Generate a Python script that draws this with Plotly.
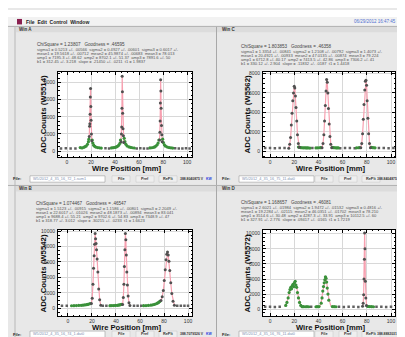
import plotly.graph_objects as go

W, H = 405, 337

# ---------------- data ----------------
# Win A (W5514)
a_scan_x = [-5, -1, 3, 7, 32, 35, 58, 61, 64, 67, 90, 93, 96, 99, 102]
a_scan_y = [320, 330, 310, 320, 330, 310, 320, 330, 310, 320, 330, 310, 320, 330, 310]
a_bg_x = [11, 12.5, 14, 15, 16, 17, 17.8, 18.2, 21, 21.5, 22.2, 23, 24, 25.5, 27, 28.5,
          37, 38.5, 40, 41, 42, 43, 44, 44.5, 47.6, 48.2, 49, 50, 51.5, 53, 54.5, 56,
          69, 70.5, 72, 73, 74, 75, 75.8, 76.4, 79.6, 80.2, 81, 82, 83.5, 85, 86.5, 88]
a_bg_y = [420, 380, 450, 520, 600, 800, 1100, 1400, 1300, 950, 700, 560, 480, 420, 390, 360,
          380, 410, 440, 500, 560, 700, 900, 1300, 1500, 1100, 800, 600, 500, 440, 400, 370,
          380, 400, 450, 500, 600, 750, 950, 1300, 1400, 1000, 750, 580, 480, 420, 390, 360]
a_pk_x = [18.5, 18.8, 19.0, 19.2, 19.4, 19.6, 19.8, 20.0, 20.3, 20.6,
          45.0, 45.3, 45.5, 45.7, 45.9, 46.1, 46.3, 46.6, 46.9, 47.2,
          77.0, 77.3, 77.5, 77.7, 77.9, 78.1, 78.3, 78.6, 78.9, 79.2]
a_pk_y = [1700, 2900, 3200, 4300, 6300, 7300, 5200, 3600, 2000, 1200,
          1100, 2000, 2800, 5000, 8700, 6900, 4400, 2600, 1800, 1000,
          1300, 2200, 3500, 5600, 8300, 7000, 5000, 3000, 1900, 1100]

# Win C (W5562)
c_scan_x = [-4, 0, 4, 8, 12, 35, 58, 62, 66, 70, 90, 94, 98, 102]
c_scan_y = [320, 330, 310, 320, 330, 320, 310, 330, 320, 310, 320, 330, 310, 320]
c_bg_x = [23.5, 24.5, 25.5, 26.5, 27.5, 28.5, 29.5, 30.5, 31.5, 33,
          38, 39.5, 41, 42, 51.5, 52.5, 53.5, 54.5, 55.5, 56.5,
          71.5, 73, 74, 83.8, 84.8, 85.8, 86.8]
c_bg_y = [420, 380, 360, 350, 340, 350, 330, 340, 330, 320,
          330, 340, 350, 360, 380, 360, 350, 340, 330, 340,
          340, 350, 360, 380, 360, 350, 340]
c_pk_x = [15.5, 16.3, 17.0, 17.6, 18.2, 18.8, 19.4, 20.0, 20.5, 21.0, 21.5, 22.1, 22.7, 23.4, 24.2,
          43.0, 43.8, 44.5, 45.1, 45.7, 46.3, 46.8, 47.3, 47.8, 48.3, 48.9, 49.5, 50.2, 51.0,
          75.0, 75.8, 76.5, 77.1, 77.7, 78.3, 78.8, 79.3, 79.8, 80.3, 80.9, 81.5, 82.2, 83.0]
c_pk_y = [300, 700, 1400, 2700, 3900, 5200, 6000, 6700, 6500, 5700, 4500, 3100, 1700, 800, 400,
          350, 800, 1700, 3100, 4700, 6200, 7400, 7100, 6000, 4400, 2800, 1500, 700, 350,
          350, 800, 1800, 3300, 4800, 6300, 7200, 7300, 6800, 5200, 3400, 1800, 800, 350]

# Win B (W5542)
b_scan_x = [-5, -1, 29, 32, 55, 58, 61, 91, 94, 97, 100]
b_scan_y = [320, 330, 310, 320, 330, 310, 320, 330, 310, 320, 330]
b_bg_x = [3, 5, 7, 9, 11, 12.5, 14, 15.5, 16.5, 17.5, 18.5,
          35, 36.5, 38, 39.5, 41, 42, 43, 44, 44.8,
          63, 65, 67, 69, 70.5, 72, 73.5, 74.5, 75.5, 76.5]
b_bg_y = [320, 330, 340, 360, 380, 400, 430, 460, 500, 550, 600,
          330, 340, 350, 360, 380, 400, 430, 470, 520,
          330, 350, 370, 400, 440, 500, 580, 660, 760, 880]
b_pk_x = [19.5, 20.2, 20.8, 21.3, 21.8, 22.2, 22.6, 23.0, 23.4, 23.8, 24.3, 24.9, 25.6, 26.4, 27.3,
          45.5, 46.1, 46.6, 47.0, 47.4, 47.8, 48.2, 48.6, 49.0, 49.5, 50.1, 50.8, 51.6,
          77.5, 78.5, 79.4, 80.2, 81.0, 81.7, 82.3, 82.9, 83.5, 84.1, 84.8, 85.6, 86.5, 87.5, 88.6]
b_pk_y = [600, 1300, 3100, 5200, 6800, 8300, 9700, 9000, 8400, 7600, 6400, 4700, 2500, 1100, 400,
          500, 1400, 3100, 5400, 7600, 9700, 8900, 6900, 4700, 3000, 1600, 700, 350,
          1000, 1500, 2300, 3600, 5000, 6300, 7000, 7300, 6900, 6100, 4900, 3300, 1900, 900, 400]

# Win D (W5572)
d_scan_x = [-4, 0, 4, 8, 34, 57, 61, 65, 69, 73, 88, 92, 96, 100]
d_scan_y = [320, 330, 310, 320, 330, 320, 310, 330, 320, 310, 320, 330, 310, 320]
d_bg_x = [13.0, 14.0, 15.0, 15.8, 16.5, 17.2, 17.8, 18.4, 19.0, 19.6, 20.2, 20.8, 21.4, 22.0, 22.7, 23.5, 24.4, 25.4, 26.5,
          27.5, 29, 30.5, 32, 38, 39, 40.5,
          42.3, 43.0, 43.6, 44.2, 44.8, 45.3, 45.8, 46.3, 46.8, 47.3, 47.9, 48.6,
          51.5, 53, 54.5, 80.5, 81.5, 82.5, 84, 85.5]
d_bg_y = [500, 900, 1500, 2200, 2600, 2900, 2700, 3100, 3300, 3000, 3500, 3700, 3200, 2900, 2200, 1500, 900, 500, 330,
          340, 330, 340, 330, 330, 340, 350,
          800, 1500, 2400, 3000, 3500, 3900, 4300, 4100, 3600, 2800, 2000, 1200,
          350, 340, 330, 380, 360, 350, 340, 330]
d_pk_x = [76.5, 77.0, 77.4, 77.7, 78.0, 78.2, 78.5, 78.8, 79.2, 79.7]
d_pk_y = [400, 800, 1900, 4000, 6600, 10100, 8000, 3700, 1500, 500]
d_fit_x = [12, 13.0, 15.0, 17.2, 19.0, 20.8, 22.0, 23.5, 25.4, 27,
           41, 42.3, 43.6, 44.8, 45.8, 46.3, 47.3, 48.6, 50.3,
           76.5, 77.0, 77.4, 77.7, 78.0, 78.2, 78.5, 78.8, 79.2, 79.7]
d_fit_y = [350, 500, 1500, 2800, 3300, 3500, 3000, 1600, 600, 350,
           350, 900, 2300, 3400, 4100, 4200, 3200, 1400, 400,
           400, 800, 1900, 4000, 6600, 10100, 8000, 3700, 1500, 500]

x_ticks = [0, 20, 40, 60, 80, 100]
y_ticks_top = [0, 2000, 4000, 6000, 8000]
y_ticks_bottom = [0, 2000, 4000, 6000, 8000, 10000]
y_titles = ["ADC Counts (W5514)", "ADC Counts (W5562)", "ADC Counts (W5542)", "ADC Counts (W5572)"]
win_names = ["Win A", "Win C", "Win B", "Win D"]
chi_lines = ["ChiSquare = 1.23807   Goodness = .46595",
             "ChiSquare = 1.803853   Goodness = .46358",
             "ChiSquare = 1.074467   Goodness = .46547",
             "ChiSquare = 1.168657   Goodness = .46081"]
param_lines = [
    ["sigma1 = 0.5213 +/- .00566  sigma2 = 0.4927 +/- .00601  sigma3 = 0.6017 +/-",
     "mean1 = 19.5618 +/- .00712  mean2 = 45.9874 +/- .00683  mean3 = 78.013",
     "amp1 = 7195.3 +/- 48.62  amp2 = 8702.1 +/- 51.37  amp3 = 7891.6 +/- 50",
     "b1 = 312.45 +/- 3.218  slope = .21450 +/- .0211  t1 = 1.9837"],
    ["sigma1 = 1.3354 +/- .00841  sigma2 = 1.2108 +/- .00792  sigma3 = 1.4073 +/-",
     "mean1 = 20.4921 +/- .00933  mean2 = 47.0135 +/- .00874  mean3 = 79.224",
     "amp1 = 6712.8 +/- 40.17  amp2 = 7413.5 +/- 42.86  amp3 = 7306.2 +/- 41",
     "b1 = 330.12 +/- 2.904  slope = .11832 +/- .0187  t1 = 1.4418"],
    ["sigma1 = 1.5123 +/- .00915  sigma2 = 1.1586 +/- .00801  sigma3 = 2.2049 +/-",
     "mean1 = 22.6017 +/- .01026  mean2 = 48.1873 +/- .00894  mean3 = 83.041",
     "amp1 = 9688.4 +/- 55.21  amp2 = 9702.6 +/- 54.83  amp3 = 7348.9 +/- 47",
     "b1 = 318.77 +/- 3.012  slope = .30215 +/- .0233  t1 = 1.6623"],
    ["sigma1 = 2.6021 +/- .01984  sigma2 = 1.9472 +/- .01532  sigma3 = 0.4816 +/-",
     "mean1 = 19.2284 +/- .02115  mean2 = 46.0351 +/- .01702  mean3 = 78.210",
     "amp1 = 3514.6 +/- 30.48  amp2 = 4287.3 +/- 33.91  amp3 = 10112.5 +/- 60",
     "b1 = 327.91 +/- 2.776  slope = .09417 +/- .0165  t1 = 1.7219"],
]
file_names = ["W5/2012_4_35_16_72_1.sum1", "W5/2012_4_35_16_75_11.dat0",
              "W5/2012_4_35_16_74_1.dat0", "W5/2012_4_35_16_76_11.dat0"]
volt_texts = ["388.8040875 V", "388.8404875 V", "388.7079526 V", "388.8882031 V"]
blue_texts = ["KW", "K", "KW", "K"]

panels = [
    dict(scan=(a_scan_x, a_scan_y), bg=(a_bg_x, a_bg_y), pk=(a_pk_x, a_pk_y), fit=(a_pk_x, a_pk_y)),
    dict(scan=(c_scan_x, c_scan_y), bg=(c_bg_x, c_bg_y), pk=(c_pk_x, c_pk_y), fit=(c_pk_x, c_pk_y)),
    dict(scan=(b_scan_x, b_scan_y), bg=(b_bg_x, b_bg_y), pk=(b_pk_x, b_pk_y), fit=(b_pk_x, b_pk_y)),
    dict(scan=(d_scan_x, d_scan_y), bg=(d_bg_x, d_bg_y), pk=(d_pk_x, d_pk_y), fit=(d_fit_x, d_fit_y)),
]

# ---------------- layout geometry (pixels) ----------------
def px(x):
    return x / W

def py(y):
    return 1 - y / H

boxes = [(50, 184, 62, 148), (255, 387, 62, 148), (50, 184, 221, 308), (255, 387, 221, 308)]
xranges = [[-7.5, 104], [-5.8, 103.3], [-8.3, 103.3], [-5.8, 103.3]]
yranges = [[-690, 9250], [-615, 8200], [-1030, 10190], [-920, 10530]]
yticks = [y_ticks_top, y_ticks_top, y_ticks_bottom, y_ticks_bottom]

fig = go.Figure()
FONT = "Arial, Liberation Sans, sans-serif"

for i, p in enumerate(panels):
    xa = "x" if i == 0 else f"x{i+1}"
    ya = "y" if i == 0 else f"y{i+1}"
    fx, fy = p["fit"]
    lx, ly = [], []
    for k in range(len(fx)):
        if k > 0 and fx[k] - fx[k - 1] > 5:
            lx.append(None)
            ly.append(None)
        lx.append(fx[k])
        ly.append(fy[k])
    fig.add_trace(go.Scatter(x=lx, y=ly, mode="lines", line=dict(color="#f7a0b0", width=1.2),
                             xaxis=xa, yaxis=ya, hoverinfo="skip", connectgaps=False))
    fig.add_trace(go.Scatter(x=p["scan"][0], y=p["scan"][1], mode="markers",
                             marker=dict(color="#606060", size=2.5, symbol="square"),
                             xaxis=xa, yaxis=ya))
    fig.add_trace(go.Scatter(x=p["bg"][0], y=p["bg"][1], mode="markers",
                             marker=dict(color="#3a913a", size=3.2),
                             xaxis=xa, yaxis=ya))
    fig.add_trace(go.Scatter(x=p["pk"][0], y=p["pk"][1], mode="markers",
                             marker=dict(color="#505050", size=3),
                             xaxis=xa, yaxis=ya))

axis_common = dict(showline=True, linecolor="black", linewidth=1, mirror="ticks",
                   ticks="inside", ticklen=3, tickcolor="black", showgrid=True,
                   gridcolor="#d8d8d8", gridwidth=1, zeroline=False,
                   tickfont=dict(size=5, color="#333333", family=FONT))

layout = dict(width=W, height=H, margin=dict(l=0, r=0, t=0, b=0),
              paper_bgcolor="#e8e8e8", plot_bgcolor="white", showlegend=False)

for i, (l, r, t, b) in enumerate(boxes):
    xk = "xaxis" if i == 0 else f"xaxis{i+1}"
    yk = "yaxis" if i == 0 else f"yaxis{i+1}"
    xa = "x" if i == 0 else f"x{i+1}"
    ya = "y" if i == 0 else f"y{i+1}"
    layout[xk] = dict(axis_common, domain=[px(l), px(r)], range=xranges[i], tickvals=x_ticks,
                      anchor=ya, ticklabelstandoff=0,
                      minor=dict(ticks="inside", ticklen=1.5, tickcolor="black", dtick=5, showgrid=False))
    layout[yk] = dict(axis_common, domain=[py(b), py(t)], range=yranges[i], tickvals=yticks[i],
                      tickformat="d", anchor=xa, ticklabelstandoff=1,
                      minor=dict(ticks="inside", ticklen=1.5, tickcolor="black", dtick=500, showgrid=False))

fig.update_layout(**layout)

shapes = []
ann = []

def text(x, y, s, size=5, color="#222222", bold=False, anchor="left", angle=0, family=FONT):
    if bold:
        s = f"<b>{s}</b>"
    ann.append(dict(x=px(x), y=py(y), xref="paper", yref="paper", text=s, showarrow=False,
                    xanchor=anchor, yanchor="middle", textangle=angle, borderpad=0,
                    font=dict(size=size, color=color, family=family)))

def rect(x0, y0, x1, y1, fill, line="rgba(0,0,0,0)", lw=0.8):
    shapes.append(dict(type="rect", xref="paper", yref="paper", x0=px(x0), x1=px(x1),
                       y0=py(y1), y1=py(y0), fillcolor=fill, line=dict(color=line, width=lw),
                       layer="below"))

def line(x0, y0, x1, y1, color="#a0a0a0", lw=1):
    shapes.append(dict(type="line", xref="paper", yref="paper", x0=px(x0), x1=px(x1),
                       y0=py(y0), y1=py(y1), line=dict(color=color, width=lw)))

# window chrome
rect(0, 0, W, 7, "white")
rect(0, 7, W, 16, "#f2f2f2")
rect(9, 9, 14, 14.5, "#8a1f4f")
text(17, 12, "File  Edit  Control  Window", size=5, bold=True, color="#222222")
text(345, 12, "06/29/2012 16:47:45", size=4.5, color="#5070d0")
text(388, 12, "Set", size=4.5, color="#333333", bold=True)
line(0, 16.5, W, 16.5, "#b0b0b0", 1)
line(7, 17, 7, 329, "#b8b8b8", 1)
line(208.5, 17, 208.5, 329, "#a8a8a8", 1)
line(0, 176.5, W, 176.5, "#b0b0b0", 1)
line(0, 329.5, W, 329.5, "#c0c0c0", 1)
rect(8, 17, 208, 22.5, "#dcdcdc")
rect(209, 17, W, 22.5, "#dcdcdc")
rect(8, 177, 208, 182.5, "#dcdcdc")
rect(209, 177, W, 182.5, "#dcdcdc")

hdr = [(10, 19.8), (213, 19.8), (10, 179.8), (213, 179.8)]
txt0 = [(28, 35), (232, 37), (27, 195), (232, 194)]
ytit = [(35, 105), (239, 105), (35, 265), (239, 265)]
rows = [(0, 170, 0, 171), (209, 170, -6, 159), (0, 326.2, 0, 171), (209, 326.2, -6, 159)]
xt_y = [159.5, 159.5, 319.0, 319.0]

for i, (l, r, t, b) in enumerate(boxes):
    text(hdr[i][0], hdr[i][1], win_names[i], size=4.5, bold=True, color="#333333")
    tx, ty = txt0[i]
    text(tx, ty, chi_lines[i], size=4.6, color="#444444")
    for k, s in enumerate(param_lines[i]):
        text(tx, ty + 5 + 3.8 * k, s, size=4.1, color="#555555")
    text((l + r) / 2 + 2, xt_y[i], "Wire Position [mm]", size=7.6, bold=True, color="#111111",
         anchor="center")
    text(ytit[i][0], ytit[i][1], y_titles[i], size=7.8, bold=True, color="#111111",
         anchor="center", angle=-90)
    ox, oy, sh, vx = rows[i]
    text(ox + 4, oy, "File:", size=4.0, bold=True, color="#222222")
    rect(ox + 22, oy - 3.2, ox + 97, oy + 3.2, "white", "#9a9a9a", 0.6)
    text(ox + 24, oy, file_names[i], size=3.8, color="#8090b0")
    bo = ox + sh
    for bx, lab in [(bo + 104, "File"), (bo + 128, "Pref"), (bo + 151, "RePlt")]:
        rect(bx, oy - 3.2, bx + 18, oy + 3.2, "#efefef", "#c4c4c4", 0.5)
        text(bx + 9, oy, lab, size=3.8, bold=True, color="#333333", anchor="center")
    text(ox + vx, oy, volt_texts[i], size=3.4, bold=True, color="#333333")
    text(ox + vx + 26, oy, blue_texts[i], size=3.4, bold=True, color="#2040e0")

text(5, 331.5, "Stat file saved to Wire Scan 12", size=3.6, color="#3a9a3a")
text(384, 331.5, "■", size=3.0, color="#555555")

fig.update_layout(shapes=shapes, annotations=ann)
fig.write_html("out.html")
